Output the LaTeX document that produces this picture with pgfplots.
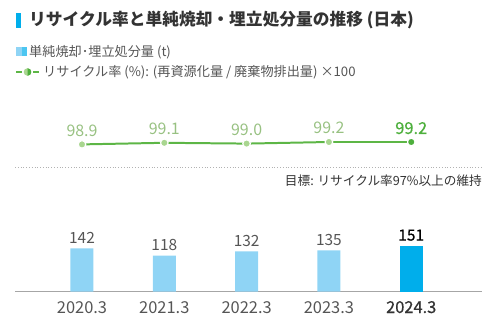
\documentclass[border=0pt]{standalone}
\usepackage{fontspec}
\setmainfont{Noto Sans CJK JP}
\newfontfamily\semib[FakeBold=0.6]{Noto Sans CJK JP}
\usepackage{pgfplots}
\pgfplotsset{compat=1.18}
\definecolor{barlight}{HTML}{8FD4F5}
\definecolor{bardark}{HTML}{00AEEB}
\definecolor{lgreen}{HTML}{A9D690}
\definecolor{dgreen}{HTML}{4DAF3C}
\definecolor{linegreen}{HTML}{5DB646}
\definecolor{txt}{HTML}{333333}
\definecolor{ltxt}{HTML}{555555}
\begin{document}
\begin{tikzpicture}[x=1bp,y=1bp]
\path[use as bounding box] (0,0) rectangle (500,331);
% title
\fill[bardark] (16,303) rectangle (21,318.3);
\node[anchor=west, inner sep=0pt, text=txt, font=\fontsize{16.8}{16.8}\selectfont\bfseries] at (29,310.5) {リサイクル率と単純焼却・埋立処分量の推移 (日本)};
% legend 1
\fill[barlight] (16,275) rectangle (21.5,284);
\fill[bardark!70] (21.5,275) rectangle (27,284);
\node[anchor=west, inner sep=0pt, text=ltxt, font=\fontsize{13.2}{13.2}\selectfont] at (29,279) {単純焼却･埋立処分量 (t)};
% legend 2
\draw[linegreen, line width=2pt] (16,259) -- (22,259);
\draw[linegreen, line width=2pt] (33,259) -- (39,259);
\fill[lgreen] (27.5,259) circle (3.8);
\fill[dgreen] (27.5,262.8) arc (90:-90:3.8) -- cycle;
\node[anchor=west, inner sep=0pt, text=ltxt, font=\fontsize{13.2}{13.2}\selectfont] at (43,259) {リサイクル率 (\%): (再資源化量 / 廃棄物排出量) ×100};
% target
\draw[gray!60, dotted, line width=0.8pt] (15,163.7) -- (482,163.7);
\node[anchor=east, inner sep=0pt, text=txt, font=\fontsize{12.7}{12.7}\selectfont] at (482,150.3) {目標: リサイクル率97\%以上の維持};
% bars
\begin{axis}[at={(15bp,39.5bp)}, anchor=south west, scale only axis,
  width=467bp, height=60.8bp, xmin=-0.814, xmax=4.86, ymin=0, ymax=200,
  axis x line=bottom, axis y line=none, axis line style={-, gray!70, line width=0.6pt},
  xtick={0,1,2,3,4}, major tick length=0pt,
  xticklabels={2020.3,2021.3,2022.3,2023.3,{\color{txt}\semib 2024.3}},
  xticklabel style={anchor=base, yshift=-21.5bp, text=ltxt, font=\fontsize{16.5}{16.5}\selectfont},
  clip=false]
\addplot[ybar, bar width=23bp, bar shift=0pt, fill=barlight, draw=none,
  point meta=explicit symbolic, nodes near coords,
  every node near coord/.append style={font=\fontsize{15.5}{15.5}\selectfont, text=ltxt, anchor=base, yshift=5bp, inner sep=0pt}]
  coordinates {(0,142)[142] (1,118)[118] (2,132)[132] (3,135)[135]};
\addplot[ybar, bar width=23bp, bar shift=0pt, fill=bardark, draw=none,
  point meta=explicit symbolic, nodes near coords,
  every node near coord/.append style={font=\fontsize{15.5}{15.5}\selectfont\semib, text=black, anchor=base, yshift=5bp, inner sep=0pt}]
  coordinates {(4,151)[151]};
\end{axis}
% line
\begin{axis}[at={(15bp,179.4bp)}, anchor=south west, scale only axis,
  width=467bp, height=16bp, xmin=-0.814, xmax=4.86, ymin=98, ymax=100,
  hide axis, clip=false]
\addplot[linegreen, line width=2pt, no marks] coordinates {(0,98.9) (1,99.1) (2,99.0) (3,99.2) (4,99.2)};
\addplot[only marks, mark=*, mark size=3.8pt, mark options={fill=lgreen, draw=white, line width=1.2pt},
  point meta=explicit symbolic, nodes near coords,
  every node near coord/.append style={font=\fontsize{16}{16}\selectfont, text=lgreen!90!black, anchor=base, yshift=8bp, inner sep=0pt}]
  coordinates {(0,98.9)[98.9] (1,99.1)[99.1] (2,99.0)[99.0] (3,99.2)[99.2]};
\addplot[only marks, mark=*, mark size=3.8pt, mark options={fill=dgreen, draw=white, line width=1.2pt},
  point meta=explicit symbolic, nodes near coords,
  every node near coord/.append style={font=\fontsize{16.5}{16.5}\selectfont\semib, text=dgreen, anchor=base, yshift=8bp, inner sep=0pt}]
  coordinates {(4,99.2)[99.2]};
\end{axis}
\end{tikzpicture}
\end{document}
